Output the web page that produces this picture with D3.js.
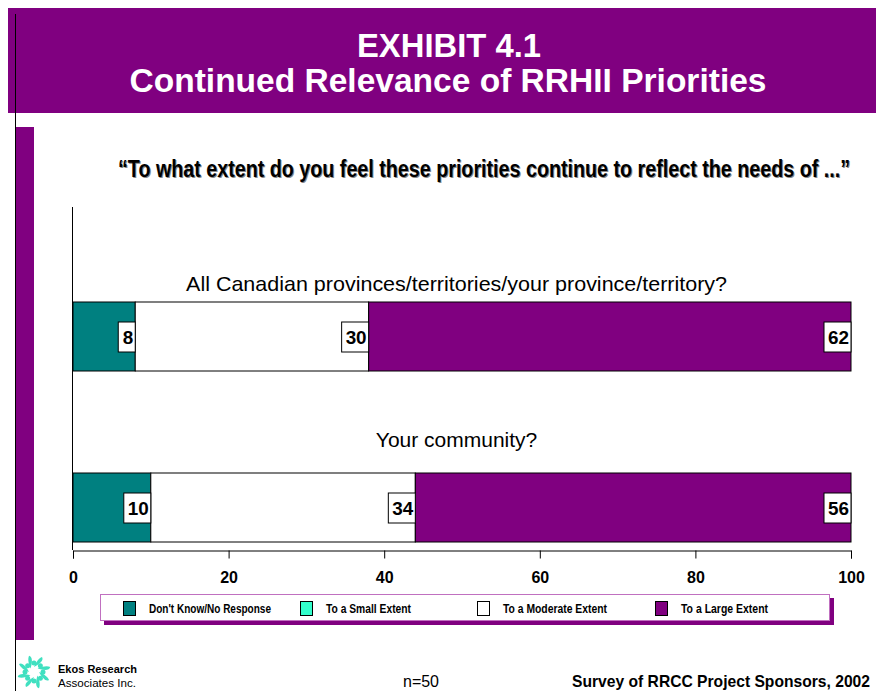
<!DOCTYPE html>
<html>
<head>
<meta charset="utf-8">
<script src="https://cdn.jsdelivr.net/npm/d3@7"></script>
<style>
  body { margin: 0; background: #fff; }
  svg { display: block; }
</style>
</head>
<body>
<div id="app"></div>
<script>
const categories = ["All Canadian provinces/territories/your province/territory?", "Your community?"]
const seriesNames = ["Don't Know/No Response", "To a Small Extent", "To a Moderate Extent", "To a Large Extent"]
const dontKnow = [8, 10]
const smallExtent = [0, 0]
const moderateExtent = [30, 34]
const largeExtent = [62, 56]
const xTicks = [0, 20, 40, 60, 80, 100]

const width = 876
const height = 691
const purple = "#800080"
const colors = ["#008080", "#33ffcc", "#ffffff", "#800080"]
const sans = "'Liberation Sans', Arial, sans-serif"

const svg = d3.select('#app').append('svg')
    .attr('width', width)
    .attr('height', height)

// squeeze text into a given width, the fonts in the original are narrow
function narrowText(sel, len) {
    return sel.attr('textLength', len).attr('lengthAdjust', 'spacingAndGlyphs')
}

// title banner
svg.append('rect').attr('x', 8).attr('y', 8).attr('width', width - 8).attr('height', 105).attr('fill', purple)
svg.append('line').attr('x1', 15.5).attr('x2', 15.5).attr('y1', 14).attr('y2', height).attr('stroke', '#000').attr('stroke-width', 1)
svg.append('rect').attr('x', 16).attr('y', 127).attr('width', 18).attr('height', 513).attr('fill', purple)

svg.append('text').attr('x', 449).attr('y', 57).attr('text-anchor', 'middle')
    .attr('fill', '#fff').attr('font-family', sans).attr('font-weight', 'bold').attr('font-size', 34)
    .text('EXHIBIT 4.1').call(narrowText, 184)
svg.append('text').attr('x', 448).attr('y', 92).attr('text-anchor', 'middle')
    .attr('fill', '#fff').attr('font-family', sans).attr('font-weight', 'bold').attr('font-size', 33)
    .text('Continued Relevance of RRHII Priorities').call(narrowText, 637)

// question, with a gray shadow
const question = "\u201cTo what extent do you feel these priorities continue to reflect the needs of ...\u201d"
svg.append('text').attr('x', 485).attr('y', 178).attr('text-anchor', 'middle')
    .attr('fill', '#888').attr('font-family', sans).attr('font-weight', 'bold').attr('font-size', 23)
    .text(question).call(narrowText, 732)
svg.append('text').attr('x', 484).attr('y', 177).attr('text-anchor', 'middle')
    .attr('fill', '#000').attr('font-family', sans).attr('font-weight', 'bold').attr('font-size', 23)
    .text(question).call(narrowText, 732)

// scales
const x = d3.scaleLinear().domain([0, 100]).range([73, 851])
const y = d3.scaleBand().domain(categories).range([208, 550]).padding(0)

const rows = categories.map((c, i) => {
    const vals = [dontKnow[i], smallExtent[i], moderateExtent[i], largeExtent[i]]
    let acc = 0
    return { cat: c, i, segs: vals.map((v, k) => { const s = { k, v, x0: acc, x1: acc + v }; acc += v; return s }) }
})

const barH = 69
const labelGap = [11, 26]

const rowG = svg.append('g').selectAll('g.row').data(rows).join('g').attr('class', 'row')
    .attr('transform', d => `translate(0, ${y(d.cat) + y.bandwidth() - barH - 8})`)

rowG.append('text')
    .attr('x', x(49.3)).attr('y', d => -labelGap[d.i]).attr('text-anchor', 'middle')
    .attr('font-family', sans).attr('font-size', 21)
    .text(d => d.cat)
    .each(function (d) { if (d.i === 0) d3.select(this).call(narrowText, 541) })

rowG.selectAll('rect.seg').data(d => d.segs.filter(s => s.v > 0)).join('rect')
    .attr('class', 'seg')
    .attr('x', s => x(s.x0)).attr('width', s => x(s.x1) - x(s.x0))
    .attr('y', 0).attr('height', barH)
    .attr('fill', s => colors[s.k]).attr('stroke', '#000').attr('stroke-width', 1)

const labels = rowG.selectAll('g.lab').data(d => d.segs.filter(s => s.v > 0)).join('g').attr('class', 'lab')
const boxW = s => String(s.v).length * 10 + 7
labels.append('rect')
    .attr('x', s => x(s.x1) - boxW(s))
    .attr('width', boxW)
    .attr('y', 20).attr('height', 30)
    .attr('fill', '#fff').attr('stroke', '#000').attr('stroke-width', 1)
labels.append('text')
    .attr('x', s => x(s.x1) - 2).attr('y', 42).attr('text-anchor', 'end')
    .attr('font-family', sans).attr('font-weight', 'bold').attr('font-size', 19)
    .text(s => s.v)
    .attr('textLength', s => String(s.v).length * 10.5).attr('lengthAdjust', 'spacingAndGlyphs')

// y axis line
svg.append('line').attr('x1', 72.5).attr('x2', 72.5).attr('y1', 207).attr('y2', 550).attr('stroke', '#000')

// x axis
const xAxis = svg.append('g').attr('transform', 'translate(0, 550.5)')
    .call(d3.axisBottom(x).tickValues(xTicks).tickSize(8).tickPadding(13))
xAxis.select('.domain').attr('stroke', '#000')
xAxis.selectAll('.tick line').attr('stroke', '#000')
xAxis.selectAll('.tick text')
    .attr('font-family', sans).attr('font-weight', 'bold').attr('font-size', 16).attr('fill', '#000')

// legend
const legendX = [123, 300, 477, 655]
const legendW = [122, 85, 104, 87]
svg.append('rect').attr('x', 104).attr('y', 598).attr('width', 730).attr('height', 27).attr('fill', purple)
svg.append('rect').attr('x', 100.5).attr('y', 594.5).attr('width', 729).attr('height', 26)
    .attr('fill', '#fff').attr('stroke', '#c070c0').attr('stroke-width', 1)
const lg = svg.append('g').selectAll('g').data(seriesNames).join('g')
    .attr('transform', (d, i) => `translate(${legendX[i]}, 601)`)
lg.append('rect').attr('x', 0.5).attr('y', 0.5).attr('width', 12).attr('height', 14)
    .attr('fill', (d, i) => colors[i]).attr('stroke', '#000')
lg.append('text').attr('x', 26).attr('y', 12)
    .attr('font-family', sans).attr('font-weight', 'bold').attr('font-size', 12)
    .text(d => d)
    .attr('textLength', (d, i) => legendW[i]).attr('lengthAdjust', 'spacingAndGlyphs')

// footer
const logo = svg.append('g').attr('transform', 'translate(34, 672)')
d3.range(8).forEach(i => {
    const a = i * Math.PI / 4
    logo.append('path')
        .attr('d', `M0,-5 C6,-8 10,-12 8,-15 C5,-14 2,-10 0,-5`)
        .attr('transform', `rotate(${i * 45})`)
        .attr('fill', '#40e0c0')
    logo.append('circle').attr('cx', 9 * Math.cos(a)).attr('cy', 9 * Math.sin(a)).attr('r', 2.5).attr('fill', '#40e0c0')
})
svg.append('text').attr('x', 58).attr('y', 673)
    .attr('font-family', sans).attr('font-weight', 'bold').attr('font-size', 11).text('Ekos Research')
    .call(narrowText, 79)
svg.append('text').attr('x', 58).attr('y', 687)
    .attr('font-family', sans).attr('font-size', 11).text('Associates Inc.')
    .call(narrowText, 78)
svg.append('text').attr('x', 421).attr('y', 687).attr('text-anchor', 'middle')
    .attr('font-family', sans).attr('font-size', 17).text('n=50')
    .call(narrowText, 36)
svg.append('text').attr('x', 870).attr('y', 687).attr('text-anchor', 'end')
    .attr('font-family', sans).attr('font-weight', 'bold').attr('font-size', 17)
    .text('Survey of RRCC Project Sponsors, 2002')
    .call(narrowText, 298)
</script>
</body>
</html>
